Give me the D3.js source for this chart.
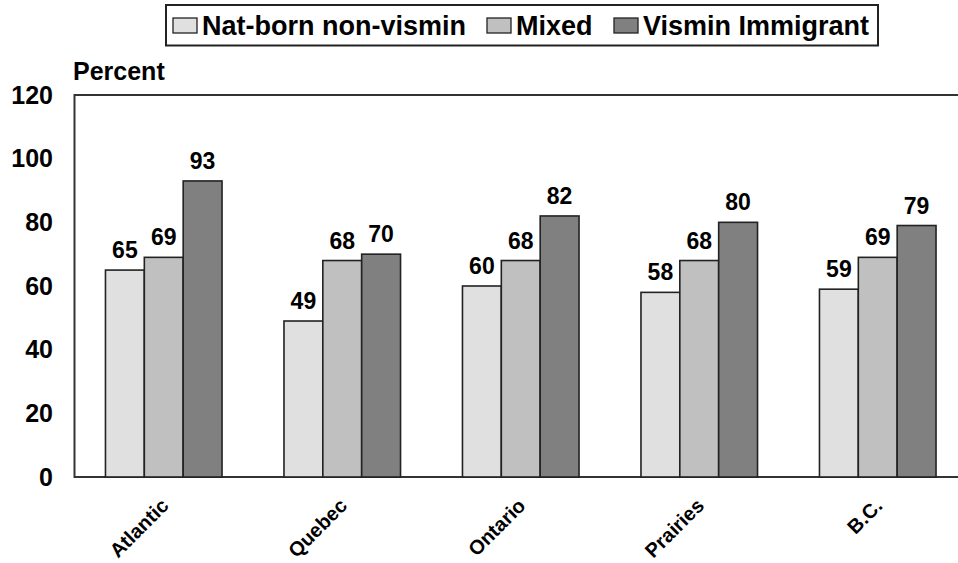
<!DOCTYPE html>
<html><head><meta charset="utf-8">
<script src="https://cdn.jsdelivr.net/npm/d3@7"></script>
<style>
html,body{margin:0;padding:0;background:#fff;}
svg{display:block;}
text{font-family:"Liberation Sans",Arial,sans-serif;font-weight:bold;fill:#000;}
</style></head>
<body>
<svg id="chart" width="958" height="563"></svg>
<script>
const categories = ["Atlantic","Quebec","Ontario","Prairies","B.C."];
const seriesNames = ["Nat-born non-vismin","Mixed","Vismin Immigrant"];
const natBorn = [65,49,60,58,59];
const mixed = [69,68,68,68,69];
const vismin = [93,70,82,80,79];
const yTicks = [0,20,40,60,80,100,120];
const colors = ["#e0e0e0","#c0c0c0","#808080"];

const series = [natBorn, mixed, vismin];
const svg = d3.select("#chart");
const plotL = 74.5, plotR = 967, plotT = 95, plotB = 477;

const x = d3.scaleBand().domain(categories).range([plotL, plotR])
  .paddingInner(0.347).paddingOuter(0.1735);
const xs = d3.scaleBand().domain(d3.range(series.length)).range([0, x.bandwidth()]);
const y = d3.scaleLinear().domain([0,120]).range([plotB, plotT]);

// frame
svg.append("path")
  .attr("d", `M${plotR+5},${plotT}H${plotL}V${plotB}H${plotR+5}`)
  .attr("fill","none").attr("stroke","#333").attr("stroke-width",2);

// y tick labels
svg.append("g").selectAll("text").data(yTicks).join("text")
  .attr("x", 53).attr("y", d => y(d)).attr("dy","0.35em")
  .attr("text-anchor","end").attr("font-size", 25).text(d => d);

svg.append("text").attr("x", 73).attr("y", 80).attr("font-size", 25).text("Percent");

// bars
const groups = svg.append("g").selectAll("g").data(categories).join("g")
  .attr("transform", d => `translate(${x(d)},0)`);
groups.each(function(cat, ci){
  const g = d3.select(this);
  series.forEach((s, si) => {
    g.append("rect")
      .attr("x", xs(si)).attr("width", xs.bandwidth())
      .attr("y", y(s[ci])).attr("height", y(0) - y(s[ci]))
      .attr("fill", colors[si]).attr("stroke","#222").attr("stroke-width",1.6);
    g.append("text")
      .attr("x", xs(si) + xs.bandwidth()/2).attr("y", y(s[ci]) - 12)
      .attr("text-anchor","middle").attr("font-size", 23).text(s[ci]);
  });
});

// category labels
svg.append("g").selectAll("text").data(categories).join("text")
  .attr("transform", d => `translate(${x(d) + x.bandwidth()/2 + 6},${plotB + 30}) rotate(-45)`)
  .attr("text-anchor","end").attr("font-size", 20).text(d => d);

// legend
const leg = svg.append("g");
leg.append("rect").attr("x", 166).attr("y", 5).attr("width", 712).attr("height", 40.5)
  .attr("fill","#fff").attr("stroke","#222").attr("stroke-width",2);
const legX = [173, 487, 614];
seriesNames.forEach((n, i) => {
  leg.append("rect").attr("x", legX[i]).attr("y", 18).attr("width", 24).attr("height", 15)
    .attr("fill", colors[i]).attr("stroke","#222").attr("stroke-width",1.3);
  leg.append("text").attr("x", legX[i] + 29).attr("y", 35).attr("font-size", 27).text(n);
});
</script>
</body></html>
